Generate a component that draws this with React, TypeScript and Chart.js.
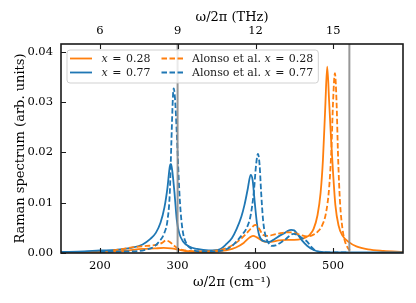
import React, { useEffect, useRef } from "react";
import { Chart, registerables } from "chart.js";

Chart.register(...registerables);

// ---------- data ----------
const CM_PER_THZ = 33.356;

const xTicks = [200, 300, 400, 500];
const thzTicks = [6, 9, 12, 15];
const yTicks = [0, 0.01, 0.02, 0.03, 0.04];
const xMin = 150;
const xMax = 590;
const yMax = 0.0415;

const seriesLabels = ["x = 0.28", "x = 0.77", "Alonso et al. x = 0.28", "Alonso et al. x = 0.77"];

const calc028X = [150, 180, 200, 230, 255, 270, 282, 292, 300, 310, 330, 350, 365, 375, 385, 392, 397, 402, 408, 414, 420, 430, 440, 450, 460, 466, 470, 475, 480, 484, 487, 490, 492.5, 495, 497.5, 500, 503, 507, 512, 520, 530, 545, 565, 590];
const calc028Y = [0.0001, 0.0002, 0.0002, 0.0004, 0.0008, 0.0009, 0.0010, 0.0009, 0.0007, 0.0004, 0.0002, 0.0003, 0.0006, 0.0011, 0.0020, 0.0030, 0.0034, 0.0031, 0.0025, 0.0022, 0.0022, 0.0025, 0.0026, 0.0026, 0.0028, 0.0032, 0.0036, 0.0048, 0.0075, 0.0120, 0.0185, 0.0290, 0.0370, 0.0300, 0.0225, 0.0160, 0.0095, 0.0055, 0.0035, 0.0022, 0.0013, 0.0007, 0.0004, 0.0002];

const calc077X = [150, 180, 200, 220, 240, 255, 265, 272, 278, 283, 287, 290, 291.5, 293, 296, 299, 302, 307, 315, 325, 340, 355, 363, 370, 376, 382, 386, 390, 394, 396.5, 399, 402, 405, 410, 418, 425, 432, 438, 442, 446, 450, 455, 460, 467, 475, 485, 500, 550, 590];
const calc077Y = [0.0002, 0.0003, 0.0005, 0.0006, 0.0010, 0.0017, 0.0028, 0.0040, 0.0060, 0.0090, 0.0130, 0.0172, 0.0177, 0.0165, 0.0120, 0.0065, 0.0040, 0.0023, 0.0013, 0.0008, 0.0005, 0.0008, 0.0018, 0.0030, 0.0048, 0.0072, 0.0095, 0.0125, 0.0155, 0.0145, 0.0105, 0.0060, 0.0035, 0.0024, 0.0022, 0.0028, 0.0035, 0.0040, 0.0044, 0.0046, 0.0045, 0.0036, 0.0025, 0.0014, 0.0006, 0.0002, 0.0001, 0.0001, 0.0001];

const alonso028X = [217, 230, 245, 260, 272, 280, 285, 290, 296, 302, 310, 325, 345, 360, 370, 380, 388, 394, 400, 405, 410, 416, 425, 435, 443, 450, 458, 466, 473, 480, 486, 491, 495, 498, 500, 502.4, 504.5, 506.5, 509, 512, 515, 519, 523];
const alonso028Y = [0.0005, 0.0008, 0.0012, 0.0014, 0.0016, 0.0020, 0.0025, 0.0022, 0.0014, 0.0008, 0.0005, 0.0003, 0.0004, 0.0008, 0.0015, 0.0026, 0.0038, 0.0048, 0.0056, 0.0048, 0.0036, 0.0034, 0.0037, 0.0040, 0.0041, 0.0040, 0.0036, 0.0033, 0.0035, 0.0042, 0.0055, 0.0080, 0.0130, 0.0210, 0.0300, 0.0357, 0.0300, 0.0190, 0.0100, 0.0050, 0.0025, 0.0010, 0.0003];

const alonso077X = [200, 230, 250, 260, 268, 277, 283, 287, 290, 292, 294, 295, 296.5, 298, 300, 302, 304, 307, 311, 318, 330, 345, 360, 370, 377, 384, 389, 394, 398, 401, 403.4, 405.5, 407.5, 410, 413, 417, 421, 426, 432, 438, 444, 449, 454, 460, 467, 472, 477, 482, 490, 520];
const alonso077Y = [0.0002, 0.0003, 0.0004, 0.0007, 0.0011, 0.0024, 0.0040, 0.0065, 0.0120, 0.0220, 0.0310, 0.0327, 0.0310, 0.0270, 0.0200, 0.0130, 0.0080, 0.0040, 0.0020, 0.0008, 0.0003, 0.0003, 0.0006, 0.0014, 0.0025, 0.0038, 0.0050, 0.0075, 0.0120, 0.0175, 0.0197, 0.0175, 0.0120, 0.0065, 0.0035, 0.0020, 0.0014, 0.0015, 0.0020, 0.0026, 0.0034, 0.0038, 0.0036, 0.0030, 0.0022, 0.0012, 0.0005, 0.0002, 0.0001, 0.0001];

const refLines = [300, 521];

// ---------- styles ----------
const ORANGE = "#ff7f0e";
const BLUE = "#1f77b4";
const GRAY = "rgba(140,140,140,0.9)";
const FAMILY = "'DejaVu Serif', serif";
const DASH = [5.5, 2.5];
const seriesColors = [ORANGE, BLUE, ORANGE, BLUE];
const seriesDashed = [false, false, true, true];

function pts(xs: number[], ys: number[]) {
  return xs.map((x, i) => ({ x, y: ys[i] }));
}

// split "… x = 0.28" into segments: italic x, wider spacing around "="
function segments(text: string): [string, boolean, number][] {
  const idx = text.lastIndexOf("x");
  if (idx < 0) return [[text, false, 0]];
  const rest = text.slice(idx + 1).trim();
  const num = rest.replace(/^=\s*/, "");
  return [
    [text.slice(0, idx), false, 0],
    ["x", true, 4.5],
    ["=", false, 4.5],
    [num, false, 0],
  ];
}

function drawMathLabel(ctx: CanvasRenderingContext2D, text: string, x: number, y: number, size: number, draw = true) {
  let cx = x;
  for (const [s, it, gap] of segments(text)) {
    ctx.font = `${it ? "italic " : ""}${size}px ${FAMILY}`;
    if (draw) ctx.fillText(s, cx, y);
    cx += ctx.measureText(s).width + gap;
  }
  return cx - x;
}

const decorPlugin = {
  id: "decor",
  afterDatasetsDraw(chart: any) {
    const { ctx, chartArea: a, scales } = chart;
    ctx.save();
    // inward ticks
    ctx.strokeStyle = "#1a1a1a";
    ctx.lineWidth = 1.1;
    const tl = 5;
    ctx.beginPath();
    for (const v of xTicks) {
      const p = Math.round(scales.x.getPixelForValue(v)) + 0.5;
      ctx.moveTo(p, a.bottom);
      ctx.lineTo(p, a.bottom - tl);
    }
    for (const v of thzTicks) {
      const p = Math.round(scales.x2.getPixelForValue(v)) + 0.5;
      ctx.moveTo(p, a.top);
      ctx.lineTo(p, a.top + tl);
    }
    for (const v of yTicks) {
      const p = Math.round(scales.y.getPixelForValue(v)) + 0.5;
      ctx.moveTo(a.left, p);
      ctx.lineTo(a.left + tl, p);
    }
    ctx.stroke();
    // frame
    ctx.lineWidth = 1.6;
    ctx.strokeRect(a.left, a.top, a.right - a.left, a.bottom - a.top);

    // legend (2 columns)
    const size = 11;
    const x0 = a.left + 6;
    const y0 = a.top + 6;
    const rowY = [y0 + 8.5, y0 + 22.5];
    const colLine = [x0 + 3, x0 + 94.5];
    const lineLen = 22;
    const colText = [x0 + 34.5, x0 + 125];
    const w2 = Math.max(
      drawMathLabel(ctx, seriesLabels[2], 0, 0, size, false),
      drawMathLabel(ctx, seriesLabels[3], 0, 0, size, false)
    );
    const boxW = colText[1] - x0 + w2 + 5;
    const boxH = 33;
    ctx.beginPath();
    const r = 3;
    ctx.moveTo(x0 + r, y0);
    ctx.arcTo(x0 + boxW, y0, x0 + boxW, y0 + boxH, r);
    ctx.arcTo(x0 + boxW, y0 + boxH, x0, y0 + boxH, r);
    ctx.arcTo(x0, y0 + boxH, x0, y0, r);
    ctx.arcTo(x0, y0, x0 + boxW, y0, r);
    ctx.closePath();
    ctx.fillStyle = "rgba(255,255,255,0.8)";
    ctx.fill();
    ctx.strokeStyle = "rgba(204,204,204,0.9)";
    ctx.lineWidth = 1;
    ctx.stroke();

    for (let i = 0; i < seriesLabels.length; i++) {
      const col = Math.floor(i / 2);
      const row = i % 2;
      const yy = rowY[row];
      ctx.beginPath();
      ctx.strokeStyle = seriesColors[i];
      ctx.lineWidth = 1.8;
      ctx.setLineDash(seriesDashed[i] ? DASH : []);
      ctx.moveTo(colLine[col], yy);
      ctx.lineTo(colLine[col] + lineLen, yy);
      ctx.stroke();
      ctx.setLineDash([]);
      ctx.fillStyle = "#1a1a1a";
      ctx.textBaseline = "middle";
      ctx.textAlign = "left";
      drawMathLabel(ctx, seriesLabels[i], colText[col], yy + 0.5, size);
    }
    ctx.restore();
  },
};

export default function App() {
  const canvasRef = useRef<HTMLCanvasElement | null>(null);

  useEffect(() => {
    if (!canvasRef.current) return;
    const tickFont = { family: FAMILY, size: 11.5 };
    const titleFont = { family: FAMILY, size: 13 };
    const series = [
      [calc028X, calc028Y],
      [calc077X, calc077Y],
      [alonso028X, alonso028Y],
      [alonso077X, alonso077Y],
    ];
    const datasets: any[] = series.map(([xs, ys], i) => ({
      label: seriesLabels[i],
      data: pts(xs, ys),
      borderColor: seriesColors[i],
      borderWidth: 1.8,
      borderDash: seriesDashed[i] ? DASH : [],
      pointRadius: 0,
      cubicInterpolationMode: "monotone",
      fill: false,
      order: 4 - i,
    }));
    refLines.forEach((v) => {
      datasets.push({
        label: "ref",
        data: [
          { x: v, y: 0 },
          { x: v, y: yMax },
        ],
        borderColor: GRAY,
        borderWidth: 2,
        pointRadius: 0,
        fill: false,
        order: 0,
      });
    });

    const chart = new Chart(canvasRef.current, {
      type: "line",
      data: { datasets },
      options: {
        animation: false,
        responsive: false,
        maintainAspectRatio: false,
        devicePixelRatio: 1,
        layout: { padding: { left: 0, right: 13, top: 0, bottom: 0 } },
        plugins: { legend: { display: false }, tooltip: { enabled: false } },
        scales: {
          x: {
            type: "linear",
            position: "bottom",
            min: xMin,
            max: xMax,
            grid: { display: false, drawTicks: false },
            border: { display: false },
            ticks: { font: tickFont, color: "#000", padding: 6, maxRotation: 0 },
            afterBuildTicks: (s: any) => {
              s.ticks = xTicks.map((v) => ({ value: v }));
            },
            afterFit: (s: any) => {
              s.height = 50;
            },
            title: { display: true, text: "ω/2π (cm⁻¹)", font: titleFont, color: "#000", padding: { top: 0, bottom: 12.5 } },
          },
          x2: {
            type: "linear",
            position: "top",
            min: xMin / CM_PER_THZ,
            max: xMax / CM_PER_THZ,
            grid: { display: false, drawTicks: false },
            border: { display: false },
            ticks: { font: tickFont, color: "#000", padding: 6.5, maxRotation: 0 },
            afterBuildTicks: (s: any) => {
              s.ticks = thzTicks.map((v) => ({ value: v }));
            },
            afterFit: (s: any) => {
              s.height = 44;
            },
            title: { display: true, text: "ω/2π (THz)", font: titleFont, color: "#000", padding: { top: 9.5, bottom: 0 } },
          },
          y: {
            type: "linear",
            position: "left",
            min: 0,
            max: yMax,
            grid: { display: false, drawTicks: false },
            border: { display: false },
            ticks: {
              font: tickFont,
              color: "#000",
              padding: 8,
              callback: (v: any) => Number(v).toFixed(2),
            },
            afterBuildTicks: (s: any) => {
              s.ticks = yTicks.map((v) => ({ value: v }));
            },
            afterFit: (s: any) => {
              s.width = 61;
            },
            title: { display: true, text: "Raman spectrum (arb. units)", font: titleFont, color: "#000", padding: { top: 12.5, bottom: 0 } },
          },
        },
      },
      plugins: [decorPlugin],
    } as any);
    return () => chart.destroy();
  }, []);

  return (
    <div style={{ position: "fixed", left: 0, top: 0, width: 416, height: 303, background: "#fff" }}>
      <canvas ref={canvasRef} width={416} height={303} style={{ width: 416, height: 303, display: "block" }} />
    </div>
  );
}
